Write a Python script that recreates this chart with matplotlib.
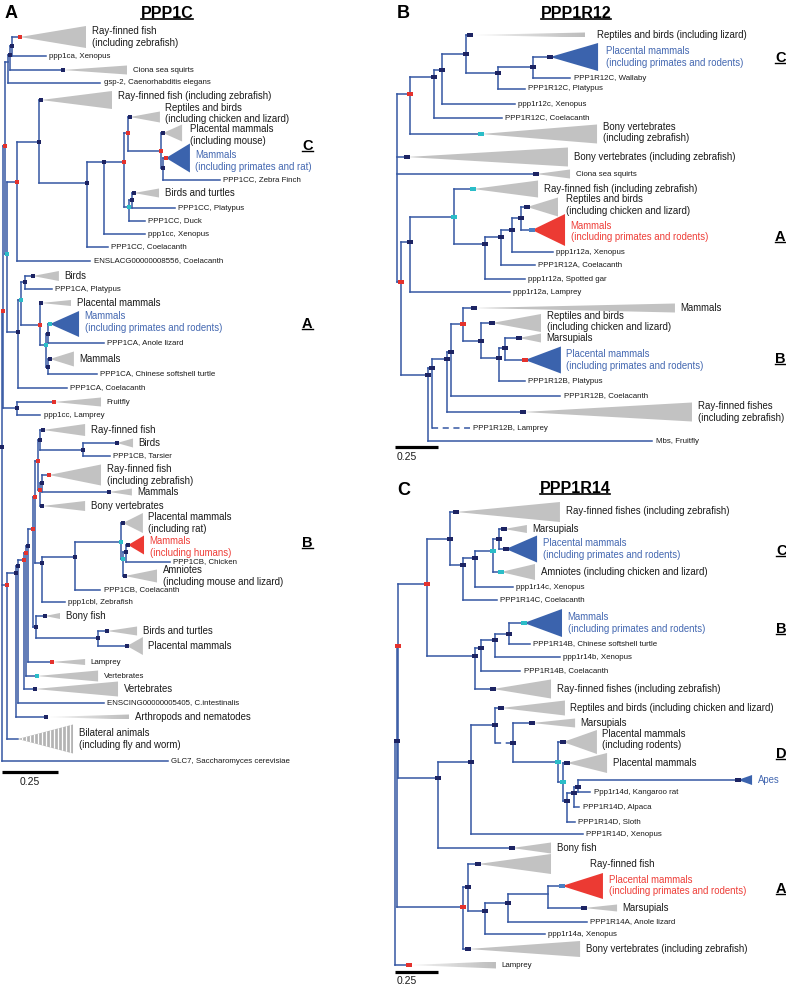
import matplotlib
matplotlib.use("Agg")
import matplotlib.pyplot as plt
import numpy as np
from matplotlib.patches import Polygon
from matplotlib.colors import LinearSegmentedColormap
from matplotlib.lines import Line2D

plt.rcParams['font.family'] = ['Liberation Sans', 'DejaVu Sans']

# ============================ DATA ============================
# depth = substitutions/site from the root, row = vertical leaf position
SCALE_LEN = 0.25

# ---------- Panel A : PPP1C ----------
A_nodes = [  # name, depth, row, support marker, children
    ("root", 0.000, 447, 'd', ["aTop", "aBot", "GLC7"]),
    ("aTop", 0.004, 311, 'r', ["aU1", "aG4"]),
    ("aU1", 0.013, 146, 'r', ["aG1c", "aU2"]),
    ("aG1c", 0.027, 62, None, ["aG1b", "gsp2"]),
    ("aG1b", 0.036, 55, 'd', ["aG1a", "cCiona"]),
    ("aG1a", 0.045, 46, 'd', ["cFishTop", "xen1"]),
    ("aU2", 0.022, 254, 'c', ["aT2", "aG3"]),
    ("aT2", 0.067, 182, 'r', ["aCC0", "enslacg"]),
    ("aCC0", 0.165, 142, 'd', ["cCCfish", "aCC1"]),
    ("aCC1", 0.379, 183, 'd', ["aCC2", "ccCoel"]),
    ("aCC2", 0.455, 162, 'd', ["aCC3", "ccXen"]),
    ("aCC3", 0.545, 162, 'r', ["aCC4", "aB1"]),
    ("aCC4", 0.563, 133, 'r', ["cReptA", "aCC5"]),
    ("aCC5", 0.710, 151, 'r', ["cPlacMouse", "aCC6"]),
    ("aCC6", 0.719, 168, 'd', ["cMamRat", "zebraFinch"]),
    ("aB1", 0.567, 207, 'c', ["aB2", "duck"]),
    ("aB2", 0.580, 200, 'd', ["cBirdsTurt", "ccPlaty"]),
    ("aG3", 0.071, 332, 'd', ["aCA1", "caCoel"]),
    ("aCA1", 0.085, 300, 'c', ["aCAb", "aCA2"]),
    ("aCAb", 0.103, 282, 'd', ["cBirds", "caPlaty"]),
    ("aCA2", 0.170, 325, 'r', ["cPlacMam", "aCA3"]),
    ("aCA3", 0.196, 345, 'c', ["aCA4", "aCA5"]),
    ("aCA4", 0.205, 334, 'd', ["cMamCA", "anole"]),
    ("aCA5", 0.205, 367, 'd', ["cMammalsCA", "turtle"]),
    ("aG4", 0.067, 408, 'd', ["cFruitfly", "lampreyCC"]),
    ("aBot", 0.022, 585, 'r', ["aC6", "cBilateral"]),
    ("aC6", 0.063, 573, 'd', ["aC5", "cArthro"]),
    ("aC5", 0.071, 566, 'd', ["aC4", "enscing"]),
    ("aC4", 0.098, 560, 'r', ["aC3", "cVertL"]),
    ("aC3", 0.107, 553, 'r', ["aC2", "cVertS"]),
    ("aC2", 0.116, 546, 'd', ["aG5d", "cLamprey"]),
    ("aG5d", 0.138, 529, 'r', ["aG5b", "aG5c"]),
    ("aG5b", 0.147, 497, 'r', ["aG5a", "aZ"]),
    ("aG5a", 0.161, 461, 'r', ["aCB1", "aCB4"]),
    ("aCB1", 0.170, 440, 'd', ["cCBfish", "aCB2"]),
    ("aCB2", 0.362, 450, 'd', ["cBirdsCB", "tarsier"]),
    ("aCB4", 0.170, 490, 'r', ["aCB3", "cBonyVert"]),
    ("aCB3", 0.179, 483, 'd', ["cFishZ", "cMamCB"]),
    ("aZ", 0.179, 563, 'd', ["aP0", "zebrafish"]),
    ("aP0", 0.326, 557, 'd', ["aP1", "cbCoel"]),
    ("aP1", 0.531, 542, 'c', ["cPlacRat", "aP2"]),
    ("aP2", 0.540, 559, 'c', ["aP3", "cAmniotes"]),
    ("aP3", 0.554, 552, 'd', ["cHuman", "chicken"]),
    ("aG5c", 0.152, 627, 'd', ["cBonyFish", "aBT"]),
    ("aBT", 0.429, 638, 'd', ["cBirdsTurt2", "cPlacMam2"]),
]
A_leaves = [  # name, tip depth, row, label
    ("GLC7", 0.741, 761, "GLC7, Saccharomyces cerevisiae"),
    ("gsp2", 0.438, 83, "gsp-2, Caenorhabditis elegans"),
    ("xen1", 0.196, 56, "ppp1ca, Xenopus"),
    ("enslacg", 0.393, 261, "ENSLACG00000008556, Coelacanth"),
    ("ccCoel", 0.473, 247, "PPP1CC, Coelacanth"),
    ("ccXen", 0.638, 234, "ppp1cc, Xenopus"),
    ("zebraFinch", 0.973, 180, "PPP1CC, Zebra Finch"),
    ("duck", 0.638, 221, "PPP1CC, Duck"),
    ("ccPlaty", 0.772, 208, "PPP1CC, Platypus"),
    ("caCoel", 0.290, 388, "PPP1CA, Coelacanth"),
    ("caPlaty", 0.223, 289, "PPP1CA, Platypus"),
    ("anole", 0.455, 343, "PPP1CA, Anole lizard"),
    ("turtle", 0.424, 374, "PPP1CA, Chinese softshell turtle"),
    ("lampreyCC", 0.170, 415, "ppp1cc, Lamprey"),
    ("enscing", 0.455, 703, "ENSCING00000005405, C.intestinalis"),
    ("tarsier", 0.482, 456, "PPP1CB, Tarsier"),
    ("zebrafish", 0.281, 602, "ppp1cbl, Zebrafish"),
    ("cbCoel", 0.438, 590, "PPP1CB, Coelacanth"),
    ("chicken", 0.750, 562, "PPP1CB, Chicken"),
]
A_clades = [  # name, start depth, end depth, row, half height, fill, marker, label
    ("cFishTop", 0.080, 0.375, 37, 11, 'g', 'r', "Ray-finned fish\n(including zebrafish)"),
    ("cCiona", 0.272, 0.558, 70, 4.5, 'g', 'd', "Ciona sea squirts"),
    ("cCCfish", 0.174, 0.491, 100, 9, 'g', 'd', "Ray-finned fish (including zebrafish)"),
    ("cReptA", 0.571, 0.705, 117, 5.5, 'g', 'd', "Reptiles and birds\n(including chicken and lizard)"),
    ("cPlacMouse", 0.719, 0.804, 133, 8.5, 'g', 'd', "Placental mammals\n(including mouse)"),
    ("cMamRat", 0.732, 0.839, 158, 14.5, 'b', 'r', "Mammals\n(including primates and rat)"),
    ("cBirdsTurt", 0.589, 0.701, 193, 4.5, 'g', 'd', "Birds and turtles"),
    ("cBirds", 0.138, 0.254, 276, 5, 'g', 'd', "Birds"),
    ("cPlacMam", 0.174, 0.308, 303, 3, 'g', 'd', "Placental mammals"),
    ("cMamCA", 0.214, 0.344, 324, 13, 'b', 'c', "Mammals\n(including primates and rodents)"),
    ("cMammalsCA", 0.214, 0.321, 359, 7.5, 'g', 'd', "Mammals"),
    ("cFruitfly", 0.232, 0.442, 402, 4.5, 'g', 'r', "Fruitfly"),
    ("cCBfish", 0.183, 0.371, 430, 6, 'g', 'd', "Ray-finned fish"),
    ("cBirdsCB", 0.513, 0.585, 443, 4.5, 'g', 'd', "Birds"),
    ("cFishZ", 0.210, 0.442, 475, 10.5, 'g', 'r', "Ray-finned fish\n(including zebrafish)"),
    ("cMamCB", 0.478, 0.580, 492, 3.5, 'g', 'd', "Mammals"),
    ("cBonyVert", 0.179, 0.371, 506, 5, 'g', 'd', "Bony vertebrates"),
    ("cPlacRat", 0.540, 0.629, 523, 10, 'g', 'd', "Placental mammals\n(including rat)"),
    ("cHuman", 0.563, 0.634, 545, 9.5, 'r', 'd', "Mammals\n(including humans)"),
    ("cAmniotes", 0.549, 0.692, 576, 6.5, 'g', 'd', "Amniotes\n(including mouse and lizard)"),
    ("cBonyFish", 0.192, 0.259, 616, 3, 'g', 'd', "Bony fish"),
    ("cBirdsTurt2", 0.469, 0.603, 631, 4.5, 'g', 'd', "Birds and turtles"),
    ("cPlacMam2", 0.558, 0.629, 646, 9, 'g', 'd', "Placental mammals"),
    ("cLamprey", 0.223, 0.371, 662, 3, 'g', 'r', "Lamprey"),
    ("cVertS", 0.156, 0.429, 676, 5.5, 'g', 'c', "Vertebrates"),
    ("cVertL", 0.147, 0.518, 689, 7.5, 'g', 'd', "Vertebrates"),
    ("cArthro", 0.196, 0.567, 717, 2.5, 'G', 'd', "Arthropods and nematodes"),
    ("cBilateral", 0.071, 0.317, 739, 14.5, 's', None, "Bilateral animals\n(including fly and worm)"),
]
A_side = [("C", 150), ("A", 328), ("B", 547)]

# ---------- Panel B : PPP1R12 ----------
B_nodes = [
    ("root", 0.000, 190, None, ["nC", "cBonyVert2", "cCiona", "nR"]),
    ("nC", 0.076, 94, 'r', ["nC1", "cBonyVert1"]),
    ("nC1", 0.215, 77, 'd', ["nC2", "coelC"]),
    ("nC2", 0.262, 70, 'd', ["nC3", "xenC"]),
    ("nC3", 0.401, 54, 'd', ["cReptLiz", "nC4"]),
    ("nC4", 0.587, 73, 'd', ["nC5", "platC"]),
    ("nC5", 0.791, 67, 'd', ["cPlacC", "wallaby"]),
    ("nR", 0.023, 282, 'r', ["nA", "nB"]),
    ("nA", 0.076, 242, 'd', ["nA0", "lampA"]),
    ("nA0", 0.331, 217, 'c', ["cRayA", "nA1"]),
    ("nA1", 0.512, 244, 'd', ["nA2", "garA"]),
    ("nA2", 0.605, 237, 'd', ["nA3", "coelA"]),
    ("nA3", 0.669, 230, 'd', ["nA4", "xenA"]),
    ("nA4", 0.721, 218, 'd', ["cReptA", "cMamA"]),
    ("nB", 0.180, 375, 'd', ["nB1", "fruitfly"]),
    ("nB1", 0.203, 368, 'd', ["nB2", "lampB"]),
    ("nB2", 0.291, 359, 'd', ["nB3", "cRayB"]),
    ("nB3", 0.314, 352, 'd', ["nB4", "coelB"]),
    ("nB4", 0.384, 324, 'r', ["cMamB", "nB5"]),
    ("nB5", 0.488, 341, 'd', ["cReptB", "nB6"]),
    ("nB6", 0.593, 358, 'd', ["nB7", "platB"]),
    ("nB7", 0.628, 348, 'd', ["cMarsB", "cPlacB"]),
]
B_leaves = [
    ("wallaby", 1.006, 78, "PPP1R12C, Wallaby"),
    ("platC", 0.744, 89, "PPP1R12C, Platypus"),
    ("xenC", 0.686, 104, "ppp1r12c, Xenopus"),
    ("coelC", 0.610, 118, "PPP1R12C, Coelacanth"),
    ("xenA", 0.907, 252, "ppp1r12a, Xenopus"),
    ("coelA", 0.802, 265, "PPP1R12A, Coelacanth"),
    ("garA", 0.744, 279, "ppp1r12a, Spotted gar"),
    ("lampA", 0.657, 292, "ppp1r12a, Lamprey"),
    ("platB", 0.744, 381, "PPP1R12B, Platypus"),
    ("coelB", 0.948, 396, "PPP1R12B, Coelacanth"),
    ("lampB", 0.424, 428, "PPP1R12B, Lamprey"),
    ("fruitfly", 1.483, 441, "Mbs, Fruitfly"),
]
B_clades = [
    ("cReptLiz", 0.424, 1.093, 35, 2.5, 'G', 'd', "Reptiles and birds (including lizard)"),
    ("cPlacC", 0.890, 1.169, 57, 14, 'b', 'd', "Placental mammals\n(including primates and rodents)"),
    ("cBonyVert1", 0.488, 1.163, 134, 9.5, 'g', 'c', "Bony vertebrates\n(including zebrafish)"),
    ("cBonyVert2", 0.058, 0.994, 157, 9.5, 'g', 'd', "Bony vertebrates (including zebrafish)"),
    ("cCiona", 0.808, 1.006, 174, 4.5, 'g', 'd', "Ciona sea squirts"),
    ("cRayA", 0.442, 0.820, 189, 8.5, 'g', 'c', "Ray-finned fish (including zebrafish)"),
    ("cReptA", 0.756, 0.936, 207, 9.5, 'g', 'd', "Reptiles and birds\n(including chicken and lizard)"),
    ("cMamA", 0.785, 0.977, 230, 16, 'r', 'l', "Mammals\n(including primates and rodents)"),
    ("cMamB", 0.448, 1.616, 308, 4.5, 'g', 'd', "Mammals"),
    ("cReptB", 0.552, 0.837, 323, 9, 'g', 'd', "Reptiles and birds\n(including chicken and lizard)"),
    ("cMarsB", 0.709, 0.837, 338, 4.5, 'g', 'd', "Marsupials"),
    ("cPlacB", 0.744, 0.953, 360, 13.5, 'b', 'r', "Placental mammals\n(including primates and rodents)"),
    ("cRayB", 0.733, 1.715, 412, 9.5, 'g', 'd', "Ray-finned fishes\n(including zebrafish)"),
]
B_side = [("C", 62), ("A", 241), ("B", 363)]

# ---------- Panel C : PPP1R14 ----------
C_nodes = [
    ("root", 0.000, 853, None, ["nU", "cLamprey"]),
    ("nU", 0.012, 741, 'd', ["nR1", "nAA"]),
    ("nR1", 0.017, 646, 'r', ["nc6", "ncD"]),
    ("nc6", 0.186, 584, 'r', ["nc5", "ncB"]),
    ("nc5", 0.320, 539, 'd', ["cRayC", "nc4"]),
    ("nc4", 0.395, 565, 'd', ["nc3", "coelC"]),
    ("nc3", 0.465, 558, 'd', ["nc2", "xenC"]),
    ("nc2", 0.570, 551, 'c', ["nc1", "cAmnC"]),
    ("nc1", 0.605, 539, 'd', ["cMarsC", "cPlacC"]),
    ("ncB", 0.465, 656, 'd', ["nb3", "cRayB"]),
    ("nb3", 0.500, 648, 'd', ["nb2", "coelB"]),
    ("nb2", 0.581, 640, 'd', ["nb1", "xenB"]),
    ("nb1", 0.663, 634, 'd', ["cMamB", "turtleB"]),
    ("ncD", 0.250, 778, 'd', ["ndD", "cBonyD"]),
    ("ndD", 0.442, 762, 'd', ["nd0", "xenD"]),
    ("nd0", 0.581, 725, 'd', ["cReptD", "nd1"]),
    ("nd1", 0.686, 743, 'd', ["cMarsD", "nd2"]),
    ("nd2", 0.948, 762, 'c', ["cPlacRod", "nd3"]),
    ("nd3", 0.977, 782, 'c', ["cPlacD", "nd4"]),
    ("nd4", 1.000, 801, 'd', ["nd5", "sloth"]),
    ("nd5", 1.041, 793, 'd', ["nd6", "alpaca"]),
    ("nd6", 1.064, 787, 'd', ["cApes", "kangaroo"]),
    ("nAA", 0.395, 907, 'r', ["na4", "cBonyA"]),
    ("na4", 0.424, 887, 'd', ["cRayA", "na3"]),
    ("na3", 0.523, 911, 'd', ["na2", "xenA"]),
    ("na2", 0.657, 903, 'd', ["na1", "anole"]),
    ("na1", 0.890, 894, None, ["cPlacA", "cMarsA"]),
]
C_leaves = [
    ("coelC", 0.593, 600, "PPP1R14C, Coelacanth"),
    ("xenC", 0.686, 587, "ppp1r14c, Xenopus"),
    ("coelB", 0.727, 671, "PPP1R14B, Coelacanth"),
    ("xenB", 0.959, 657, "ppp1r14b, Xenopus"),
    ("turtleB", 0.785, 644, "PPP1R14B, Chinese softshell turtle"),
    ("xenD", 1.093, 834, "PPP1R14D, Xenopus"),
    ("sloth", 1.046, 822, "PPP1R14D, Sloth"),
    ("alpaca", 1.070, 807, "PPP1R14D, Alpaca"),
    ("kangaroo", 1.134, 792, "Ppp1r14d, Kangaroo rat"),
    ("anole", 1.116, 922, "PPP1R14A, Anole lizard"),
    ("xenA", 0.872, 934, "ppp1r14a, Xenopus"),
]
C_clades = [
    ("cRayC", 0.355, 0.959, 512, 10, 'g', 'd', "Ray-finned fishes (including zebrafish)"),
    ("cMarsC", 0.634, 0.767, 529, 4, 'g', 'd', "Marsupials"),
    ("cPlacC", 0.645, 0.826, 549, 13.5, 'b', 'd', "Placental mammals\n(including primates and rodents)"),
    ("cAmnC", 0.616, 0.814, 572, 8, 'g', 'c', "Amniotes (including chicken and lizard)"),
    ("cMamB", 0.750, 0.971, 623, 14, 'b', 'c', "Mammals\n(including primates and rodents)"),
    ("cRayB", 0.570, 0.907, 689, 9.5, 'g', 'd', "Ray-finned fishes (including zebrafish)"),
    ("cReptD", 0.616, 0.988, 708, 7.5, 'g', 'd', "Reptiles and birds (including chicken and lizard)"),
    ("cMarsD", 0.797, 1.047, 723, 4.5, 'g', 'd', "Marsupials"),
    ("cPlacRod", 0.977, 1.174, 742, 12, 'g', 'd', "Placental mammals\n(including rodents)"),
    ("cPlacD", 1.000, 1.233, 763, 10, 'g', 'd', "Placental mammals"),
    ("cApes", 1.994, 2.076, 780, 5, 'b', 'd', "Apes"),
    ("cBonyD", 0.680, 0.907, 848, 5.5, 'g', 'd', "Bony fish"),
    ("cRayA", 0.483, 0.907, 864, 10, 'g', 'd', "Ray-finned fish"),
    ("cPlacA", 0.971, 1.209, 886, 13, 'r', 'l', "Placental mammals\n(including primates and rodents)"),
    ("cMarsA", 1.099, 1.291, 908, 3.5, 'g', 'd', "Marsupials"),
    ("cBonyA", 0.424, 1.076, 949, 8, 'g', 'd', "Bony vertebrates (including zebrafish)"),
    ("cLamprey", 0.081, 0.587, 965, 3.5, 'G', 'r', "Lamprey"),
]
C_side = [("C", 555), ("B", 633), ("D", 758), ("A", 893)]

# ============================ STYLE / LAYOUT ============================
W, H, DPI = 786, 988, 100
LINE = '#3557a3'
TEXT = '#1a1a1a'
MK = {'d': '#1d2463', 'r': '#e4322d', 'c': '#2bbdc8', 'l': '#4b7fc3'}
FILL = {'g': '#c2c2c2', 'G': '#c2c2c2', 's': '#b4b4b4', 'b': '#3b63ad', 'r': '#ec3a33'}
LABCOL = {'g': TEXT, 'G': TEXT, 's': TEXT, 'b': '#4468b1', 'r': '#ee3e38'}
FS_L, FS_S = 6.9, 5.7
LINE_STEP = 11.5 * 72 / DPI      # line spacing of two-line labels, points
GRAD = LinearSegmentedColormap.from_list('g', ['#f4f4f4', '#bdbdbd'])
RECT = [(-1, -0.6), (1, -0.6), (1, 0.6), (-1, 0.6), (-1, -0.6)]

fig = plt.figure(figsize=(W / DPI, H / DPI), dpi=DPI)
fig.patch.set_facecolor('white')
lay = fig.add_axes([0, 0, 1, 1])
lay.set_xlim(0, W)
lay.set_ylim(H, 0)
lay.axis('off')


def tree_axes(root_px, px_per_unit):
    ax = fig.add_axes([0, 0, 1, 1])
    ax.set_xlim(-root_px / px_per_unit, (W - root_px) / px_per_unit)
    ax.set_ylim(H, 0)
    ax.axis('off')
    ax.patch.set_alpha(0)
    return ax


def put_label(ax, x, y, lab, dx, dy, fs, col):
    lines = lab.split('\n')
    n = len(lines)
    for i, ln in enumerate(lines):
        off = ((n - 1) / 2.0 - i) * LINE_STEP - dy * 72 / DPI
        ax.annotate(ln, (x, y), xytext=(dx, off), textcoords='offset points',
                    va='center', ha='left', fontsize=fs, color=col)


def draw_tree(ax, nodes, leaves, clades, dashed, small, pads, dys, mshape, msize, lw=1.1):
    xl, yl = ax.get_xlim(), ax.get_ylim()
    px_unit = 1.0 / (ax.transData.transform((1, 0))[0] - ax.transData.transform((0, 0))[0])
    pos = {}
    for name, x, y, m, kids in nodes:
        pos[name] = (x, y)
    for name, tip, y, lab in leaves:
        pos[name] = (tip, y)
    for c in clades:
        pos[c[0]] = (c[1], c[3])
    mx, my, mc = [], [], []
    for name, x, y, m, kids in nodes:
        ys = [pos[k][1] for k in kids] + [y]
        ax.plot([x, x], [min(ys), max(ys)], color=LINE, lw=lw,
                solid_capstyle='projecting', zorder=1)
        for k in kids:
            kx, ky = pos[k]
            if k in dashed:
                ax.plot([x, kx], [ky, ky], color=LINE, lw=lw, dashes=(4, 3), zorder=1)
            else:
                ax.plot([x, kx], [ky, ky], color=LINE, lw=lw,
                        solid_capstyle='projecting', zorder=1)
        if m:
            mx.append(x); my.append(y); mc.append(MK[m])
    for name, tip, y, lab in leaves:
        put_label(ax, tip, y, lab, 2.5, 0, FS_S, TEXT)
    for name, x0, x1, y, h, fill, m, lab in clades:
        poly = Polygon([(x0, y), (x1, y - h), (x1, y + h)], closed=True,
                       facecolor=FILL[fill], edgecolor='none', zorder=2)
        ax.add_patch(poly)
        if fill == 'G':
            poly.set_facecolor('none')
            im = ax.imshow(np.linspace(0, 1, 64)[None, :], extent=(x0, x1, y + h, y - h),
                           cmap=GRAD, aspect='auto', zorder=2, interpolation='bilinear')
            im.set_clip_path(poly)
        elif fill == 's':
            step = 4 * px_unit
            for xs in np.arange(x0 + step, x1, step):
                ln, = ax.plot([xs, xs], [y - h, y + h], color='white', lw=0.9, zorder=2.5)
                ln.set_clip_path(poly)
        if m:
            mx.append(x0); my.append(y); mc.append(MK[m])
        put_label(ax, x1, y, lab, pads.get(name, 4.0), dys.get(name, 0.0),
                  FS_S if name in small else FS_L, LABCOL[fill])
    ax.scatter(mx, my, s=msize, marker=mshape, c=mc, linewidths=0, zorder=4)
    ax.set_xlim(xl); ax.set_ylim(yl)


def scale_bar(ax, x0, y, ly, centered):
    ax.plot([x0, x0 + SCALE_LEN], [y, y], color='black', lw=2.3, solid_capstyle='butt')
    if centered:
        ax.text(x0 + SCALE_LEN / 2, ly, str(SCALE_LEN), ha='center', va='center', fontsize=7.5, color=TEXT)
    else:
        ax.text(x0 + 0.01, ly, str(SCALE_LEN), ha='left', va='center', fontsize=7.5, color=TEXT)


axA = tree_axes(2, 224)
draw_tree(axA, A_nodes, A_leaves, A_clades, set(), {"cCiona", "cFruitfly", "cLamprey", "cVertS"},
          {"cPlacMouse": 6.0},
          {"cReptA": -3.5, "cCCfish": -4, "cMamRat": 3, "cPlacMouse": 2, "cHuman": 2, "cMamCA": -2},
          's', 8.5)
scale_bar(axA, 0.0, 772, 782, True)

axB = tree_axes(397, 172)
draw_tree(axB, B_nodes, B_leaves, B_clades, {"lampB"}, {"cCiona"},
          {"cReptLiz": 8.5, "cPlacC": 6.0, "cReptA": 6.0},
          {"cReptB": -1.5, "cMamA": 1.5, "cReptA": -2, "cBonyVert1": -1.5},
          RECT, 24)
scale_bar(axB, -0.012, 447, 457, False)

axC = tree_axes(395, 172)
draw_tree(axC, C_nodes, C_leaves, C_clades, {"nd1"}, {"cLamprey"},
          {"cRayA": 28.0}, {"cPlacRod": -2.5, "cPlacA": -0.5, "cRayC": -1},
          RECT, 24)
scale_bar(axC, 0.0, 972, 981, False)

# ---- titles, panel letters, clade letters ----
under = []
lay.text(5, 18, "A", fontsize=13, fontweight='bold', va='baseline', ha='left', color='black')
lay.text(397, 18, "B", fontsize=13, fontweight='bold', va='baseline', ha='left', color='black')
lay.text(397, 495, "C", fontsize=13, fontweight='bold', va='baseline', ha='left', color='black')
for txt, x, y in [("PPP1C", 167, 18), ("PPP1R12", 576, 17.5), ("PPP1R14", 575, 493)]:
    under.append((lay.text(x, y, txt, fontsize=11.5, fontweight='bold', va='baseline',
                           ha='center', color='black'), 1.2))
for lst, x in [(A_side, 302), (B_side, 775), (C_side, 776)]:
    for letter, yb in lst:
        under.append((lay.text(x, yb, letter, fontsize=10.5, fontweight='bold', va='baseline',
                               ha='left', color='black'), 1.0))

fig.canvas.draw()
r = fig.canvas.get_renderer()
for t, lwu in under:
    bb = t.get_window_extent(renderer=r)
    yline = (bb.y0 + 1.6) / H
    fig.add_artist(Line2D([bb.x0 / W, bb.x1 / W], [yline, yline], transform=fig.transFigure,
                          color='black', lw=lwu))

fig.savefig('out.png', dpi=DPI, facecolor='white')
